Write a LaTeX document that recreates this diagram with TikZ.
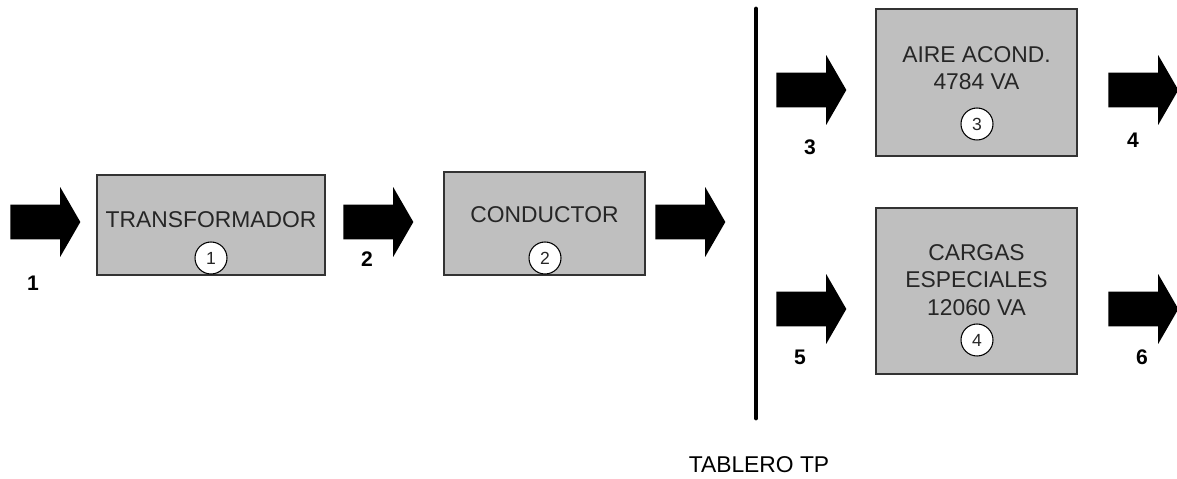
\documentclass[tikz,border=0pt]{standalone}
\usepackage{fontspec}
\setmainfont{Liberation Sans}
\usetikzlibrary{shapes.arrows,positioning}

\begin{document}
\begin{tikzpicture}[x=0.02cm,y=-0.02cm]

\tikzset{flow/.style={single arrow, fill=black, draw=none, inner xsep=0pt, inner ysep=0.34cm,
    minimum height=1.4cm, single arrow head extend=0.35cm, single arrow tip angle=120,
    anchor=tail},
block/.style={draw=black!80, line width=0.8pt, fill=black!25, inner sep=0pt},
blocktext/.style={align=center, inner sep=0pt, text=black!85,
    font=\fontsize{13}{15.6}\selectfont},
num/.style={circle, draw=black, fill=white, line width=0.6pt, minimum size=0.64cm,
    inner sep=0pt, text=black!85, font=\fontsize{10}{12}\selectfont},
tag/.style={inner sep=0pt, font=\bfseries\fontsize{12}{14}\selectfont},
bar/.style={line width=2.8pt, line cap=round}}

\useasboundingbox (0,0) rectangle (1177,479);

% big flow arrows, placed by their tail
\foreach \n/\x/\y in {a1/10/222, a2/343/222, a3/655/222, a4/776/90, a5/1108/90, a6/776/309, a7/1108/309}
    \node[flow] (\n) at (\x,\y) {};

% numbers under the arrows
\foreach \t/\x/\y in {1/33/283, 2/367/259, 3/810/147, 4/1133/140, 5/800/357, 6/1142/357}
    \node[tag] (l\t) at (\x,\y) {\t};

% the blocks
\node[block, minimum width=4.56cm, minimum height=2cm] (b1) at (211,225) {};
\node[block, minimum width=4.02cm, minimum height=2.06cm] (b2) at (544.5,223.5) {};
\node[block, minimum width=4.02cm, minimum height=2.94cm] (b3) at (976.5,82.5) {};
\node[block, minimum width=4.02cm, minimum height=3.32cm] (b4) at (976.5,291) {};

\node[blocktext] (t1) at (211,220) {TRANSFORMADOR};
\node[blocktext] (t2) at (544.5,215) {CONDUCTOR};
\node[blocktext] (t3) at (976.5,68) {AIRE ACOND.\\4784 VA};
\node[blocktext] (t4) at (976.5,280) {CARGAS\\ESPECIALES\\12060 VA};

\foreach \t/\x/\y in {1/211/258, 2/545/258, 3/977/124, 4/977/340}
    \node[num] (c\t) at (\x,\y) {\t};

% tablero
\coordinate (bartop) at (756,9);
\coordinate (barbot) at (756,418);
\draw[bar] (bartop) -- (barbot);
\node[blocktext, text=black] (tp) at (759,465) {TABLERO TP};

\end{tikzpicture}
\end{document}
